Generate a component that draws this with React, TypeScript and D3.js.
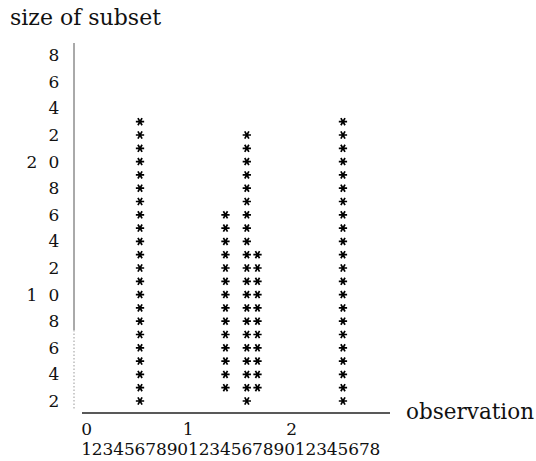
import React from "react";
import * as d3 from "d3";

// observation numbers and the digit printed under each one
const observations = [
  1, 2, 3, 4, 5, 6, 7, 8, 9, 10, 11, 12, 13, 14,
  15, 16, 17, 18, 19, 20, 21, 22, 23, 24, 25, 26, 27, 28,
];
const obsDigits = [
  "1", "2", "3", "4", "5", "6", "7", "8", "9", "0", "1", "2", "3", "4",
  "5", "6", "7", "8", "9", "0", "1", "2", "3", "4", "5", "6", "7", "8",
];
// tens row above the digits
const tensLabels = ["0", "1", "2"];
const tensAt = [1, 10.5, 20.2];

// y axis ticks (size of subset)
const yTicks = [2, 4, 6, 8, 10, 12, 14, 16, 18, 20, 22, 24, 26, 28];
const yUnits = ["2", "4", "6", "8", "0", "2", "4", "6", "8", "0", "2", "4", "6", "8"];
const yTens = ["", "", "", "", "1", "", "", "", "", "2", "", "", "", ""];

// columns of stars: observation, lowest and highest subset size
const columnObs = [6, 14, 16, 17, 25];
const columnLow = [2, 3, 2, 3, 2];
const columnHigh = [23, 16, 22, 13, 23];

const W = 536;
const H = 461;
const font = "'DejaVu Serif', serif";

export default function App() {
  const x = d3
    .scaleLinear()
    .domain([observations[0], observations[observations.length - 1]])
    .range([86.6, 375]);
  const y = d3.scaleLinear().domain([2, 28]).range([401, 55.2]);

  const star = d3.symbol().type(d3.symbolAsterisk).size(48)();

  const stars: { key: string; cx: number; cy: number }[] = [];
  columnObs.forEach((o, i) => {
    for (let v = columnLow[i]; v <= columnHigh[i]; v++) {
      stars.push({ key: `${o}-${v}`, cx: x(o), cy: y(v) });
    }
  });

  return (
    <svg
      width={W}
      height={H}
      style={{ position: "absolute", left: 0, top: 0, background: "#fff" }}
      fontFamily={font}
    >
      {/* title */}
      <text x={10} y={25} fontSize={22} fill="#111">
        size of subset
      </text>

      {/* y axis line */}
      <line x1={74} x2={74} y1={43} y2={330} stroke="#555" strokeWidth={1} />
      <line
        x1={74}
        x2={74}
        y1={330}
        y2={410}
        stroke="#999"
        strokeWidth={1}
        strokeDasharray="1.5,2"
      />

      {/* y tick labels */}
      {yTicks.map((t, i) => (
        <g key={t}>
          <text
            x={54}
            y={y(t) + 6}
            fontSize={17}
            textAnchor="middle"
            fill="#111"
          >
            {yUnits[i]}
          </text>
          {yTens[i] && (
            <text
              x={32}
              y={y(t) + 6}
              fontSize={17}
              textAnchor="middle"
              fill="#111"
            >
              {yTens[i]}
            </text>
          )}
        </g>
      ))}

      {/* stars */}
      {stars.map((s) => (
        <path
          key={s.key}
          d={star}
          transform={`translate(${s.cx},${s.cy}) rotate(90)`}
          fill="none"
          stroke="#000"
          strokeWidth={1.7}
        />
      ))}

      {/* x axis line */}
      <line x1={82} x2={390} y1={413} y2={413} stroke="#222" strokeWidth={1.6} />
      <text x={406} y={419} fontSize={21.5} fill="#111">
        observation
      </text>

      {/* tens row */}
      {tensLabels.map((l, i) => (
        <text
          key={i}
          x={x(tensAt[i])}
          y={435}
          fontSize={17}
          textAnchor="middle"
          fill="#111"
        >
          {l}
        </text>
      ))}

      {/* digit row */}
      {observations.map((o, i) => (
        <text
          key={o}
          x={x(o)}
          y={455}
          fontSize={17}
          textAnchor="middle"
          fill="#111"
        >
          {obsDigits[i]}
        </text>
      ))}
    </svg>
  );
}
